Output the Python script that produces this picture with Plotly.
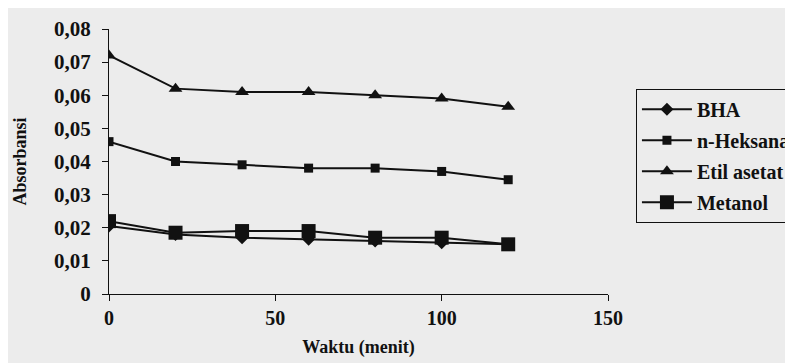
import plotly.graph_objects as go

waktu = [0, 20, 40, 60, 80, 100, 120]
bha = [0.0205, 0.018, 0.017, 0.0165, 0.016, 0.0155, 0.015]
n_heksana = [0.046, 0.040, 0.039, 0.038, 0.038, 0.037, 0.0345]
etil_asetat = [0.072, 0.062, 0.061, 0.061, 0.060, 0.059, 0.0565]
metanol = [0.022, 0.0185, 0.019, 0.019, 0.017, 0.017, 0.015]

y_tickvals = [0, 0.01, 0.02, 0.03, 0.04, 0.05, 0.06, 0.07, 0.08]
y_ticktext = ["0", "0,01", "0,02", "0,03", "0,04", "0,05", "0,06", "0,07", "0,08"]
x_tickvals = [0, 50, 100, 150]
x_ticktext = ["0", "50", "100", "150"]

FONT = "Liberation Serif, Times New Roman, DejaVu Serif, serif"
INK = "#111111"
BG = "#ececec"

series = [
    ("BHA", bha, "diamond", 10),
    ("n-Heksana", n_heksana, "square", 9),
    ("Etil asetat", etil_asetat, "triangle-up", 12),
    ("Metanol", metanol, "square", 14),
]

fig = go.Figure()
for name, vals, sym, size in series:
    fig.add_trace(go.Scatter(
        x=waktu, y=vals, name=name, mode="lines+markers",
        line=dict(color=INK, width=2),
        marker=dict(symbol=sym, size=size, color=INK),
        legendgroup=name,
    ))

fig.update_layout(
    width=793, height=363,
    margin=dict(l=101, r=193, t=21, b=77, autoexpand=False),
    paper_bgcolor=BG, plot_bgcolor=BG,
    font=dict(family=FONT, color=INK, size=18),
    showlegend=True,
    legend=dict(
        x=1.056, y=0.775, xanchor="left", yanchor="top",
        bordercolor=INK, borderwidth=1, bgcolor="rgba(0,0,0,0)",
        font=dict(family=FONT, size=20, weight="bold", color=INK),
        tracegroupgap=2, itemwidth=50,
    ),
)

fig.update_xaxes(
    range=[0, 150], tickvals=x_tickvals, ticktext=x_ticktext,
    showgrid=False, zeroline=False,
    showline=True, linecolor=INK, linewidth=1.3,
    ticks="outside", ticklen=6, tickcolor=INK, tickwidth=1.3,
    tickfont=dict(family=FONT, size=20, weight="bold", color=INK),
    title=dict(text="Waktu (menit)", font=dict(family=FONT, size=18, weight="bold", color=INK), standoff=12),
)
fig.update_yaxes(
    range=[0, 0.08], tickvals=y_tickvals, ticktext=y_ticktext,
    showgrid=False, zeroline=False,
    showline=True, linecolor=INK, linewidth=1.3,
    ticks="outside", ticklen=6, tickcolor=INK, tickwidth=1.3,
    tickfont=dict(family=FONT, size=21, weight="bold", color=INK),
    ticklabelstandoff=7,
    title=dict(text="Absorbansi", font=dict(family=FONT, size=18, weight="bold", color=INK), standoff=22),
)

fig.write_html("out.html")
